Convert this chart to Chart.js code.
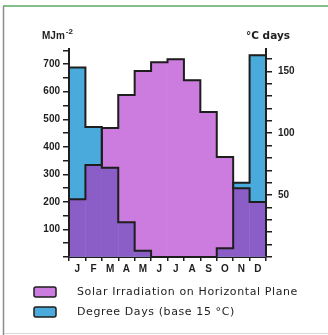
<!DOCTYPE html>
<html>
<head>
<meta charset="utf-8">
<script src="https://cdn.jsdelivr.net/npm/chart.js@4.4.0/dist/chart.umd.min.js"></script>
<style>
  html, body { margin: 0; padding: 0; background: #fff; }
  #wrap { width: 328px; height: 335px; position: relative; }
</style>
</head>
<body>
<div id="wrap"><canvas id="chart" width="328" height="335"></canvas></div>
<script>
// months and monthly values
const months = ['J', 'F', 'M', 'A', 'M', 'J', 'J', 'A', 'S', 'O', 'N', 'D'];
const solar = [210, 334, 468, 588, 675, 707, 718, 642, 526, 363, 250, 200];   // MJ m-2
const degreeDays = [153, 105, 72, 28, 5, 0, 0, 0, 0, 7, 60, 163];            // °C days
const solarTicks = [100, 200, 300, 400, 500, 600, 700];
const ddTicks = [50, 100, 150];
const solarMax = 755;
const ddMax = 168;

const pink = '#cc7cde';
const blue = '#4aaadb';
const purple = '#8a5dc7';
const ink = '#1e1e1e';

// purple where the two bars overlap, then the black step outlines
const overlapPlugin = {
  id: 'overlap',
  afterDatasetsDraw(chart) {
    const ctx = chart.ctx;
    const m0 = chart.getDatasetMeta(0).data;
    const m1 = chart.getDatasetMeta(1).data;
    ctx.save();
    ctx.fillStyle = purple;
    for (let i = 0; i < m0.length; i++) {
      const a = m0[i].getProps(['x', 'y', 'base', 'width'], true);
      const b = m1[i].getProps(['y'], true);
      const top = Math.max(a.y, b.y);
      ctx.fillRect(a.x - a.width / 2, top, a.width, a.base - top);
    }
    ctx.strokeStyle = ink;
    ctx.lineWidth = 2;
    ctx.lineJoin = 'miter';
    [m0, m1].forEach(function (bars) {
      ctx.beginPath();
      bars.forEach(function (bar, i) {
        const p = bar.getProps(['x', 'y', 'base', 'width'], true);
        const l = p.x - p.width / 2, r = p.x + p.width / 2;
        if (i === 0) ctx.moveTo(l, p.base);
        ctx.lineTo(l, p.y);
        ctx.lineTo(r, p.y);
        if (i === bars.length - 1) ctx.lineTo(r, p.base);
      });
      ctx.stroke();
    });
    ctx.restore();
  },
  afterDraw(chart) {
    const ctx = chart.ctx;
    ctx.save();
    // frame
    ctx.strokeStyle = '#5aa865';
    ctx.lineWidth = 1.5;
    ctx.beginPath(); ctx.moveTo(3, 6); ctx.lineTo(328, 6); ctx.stroke();
    ctx.strokeStyle = '#8c8c8c';
    ctx.beginPath(); ctx.moveTo(3.5, 6); ctx.lineTo(3.5, 335); ctx.stroke();
    ctx.strokeStyle = '#d8d8d8';
    ctx.lineWidth = 1;
    ctx.beginPath(); ctx.moveTo(4, 333.5); ctx.lineTo(328, 333.5); ctx.stroke();

    // axis titles
    ctx.fillStyle = ink;
    ctx.textBaseline = 'alphabetic';
    ctx.font = 'bold 10px "Liberation Sans"';
    ctx.fillText('MJm', 42, 39);
    const w = ctx.measureText('MJm').width;
    ctx.font = 'bold 8px "Liberation Sans"';
    ctx.fillText('-2', 42 + w + 1, 34);
    ctx.font = 'bold 10.5px "DejaVu Sans"';
    ctx.fillText('°C days', 246, 39);

    // legend
    const items = [
      { color: pink, text: 'Solar Irradiation on Horizontal Plane', y: 287 },
      { color: blue, text: 'Degree Days (base 15 °C)', y: 307 }
    ];
    items.forEach(function (it) {
      ctx.fillStyle = it.color;
      ctx.strokeStyle = ink;
      ctx.lineWidth = 1.5;
      ctx.beginPath();
      ctx.roundRect(34, it.y, 22, 10, 2);
      ctx.fill();
      ctx.stroke();
      ctx.fillStyle = ink;
      ctx.font = '11px "DejaVu Sans"';
      ctx.letterSpacing = '0.6px';
      ctx.textBaseline = 'middle';
      ctx.fillText(it.text, 77, it.y + 5.5);
      ctx.letterSpacing = '0px';
    });
    ctx.restore();
  }
};

const tickFont = { family: 'Liberation Sans', size: 10, weight: 'bold' };

new Chart(document.getElementById('chart'), {
  type: 'bar',
  data: {
    labels: months,
    datasets: [
      {
        label: 'Solar Irradiation on Horizontal Plane',
        data: solar,
        yAxisID: 'y',
        backgroundColor: pink,
        borderWidth: 0,
        grouped: false,
        categoryPercentage: 1,
        barPercentage: 1
      },
      {
        label: 'Degree Days (base 15 °C)',
        data: degreeDays,
        yAxisID: 'y1',
        backgroundColor: blue,
        borderWidth: 0,
        grouped: false,
        categoryPercentage: 1,
        barPercentage: 1
      }
    ]
  },
  options: {
    responsive: false,
    animation: false,
    layout: { padding: { top: 49, left: 0, right: 0, bottom: 0 } },
    plugins: { legend: { display: false }, tooltip: { enabled: false } },
    scales: {
      x: {
        offset: true,
        grid: { offset: true, drawOnChartArea: false, tickLength: 4, color: ink, lineWidth: 1.5 },
        border: { color: ink, width: 2 },
        ticks: { font: tickFont, color: ink, padding: 2, maxRotation: 0, autoSkip: false },
        afterFit(s) { s.height = 78; }
      },
      y: {
        position: 'left',
        min: 0,
        max: solarMax,
        grid: { drawOnChartArea: false, tickLength: 6, color: ink, lineWidth: 1.5 },
        border: { color: ink, width: 2 },
        ticks: {
          stepSize: 50,
          maxTicksLimit: 40,
          autoSkip: false,
          includeBounds: false,
          font: tickFont,
          color: ink,
          padding: 3,
          callback: v => solarTicks.includes(Math.round(v)) ? Math.round(v) : ''
        },
        afterFit(s) { s.width = 69; }
      },
      y1: {
        position: 'right',
        min: 0,
        max: ddMax,
        grid: { drawOnChartArea: false, tickLength: 6, color: ink, lineWidth: 1.5 },
        border: { color: ink, width: 2 },
        ticks: {
          stepSize: 10,
          maxTicksLimit: 40,
          autoSkip: false,
          includeBounds: false,
          font: tickFont,
          color: ink,
          padding: 6,
          callback: v => ddTicks.includes(Math.round(v)) ? Math.round(v) : ''
        },
        afterFit(s) { s.width = 62; }
      }
    }
  },
  plugins: [overlapPlugin]
});
</script>
</body>
</html>
